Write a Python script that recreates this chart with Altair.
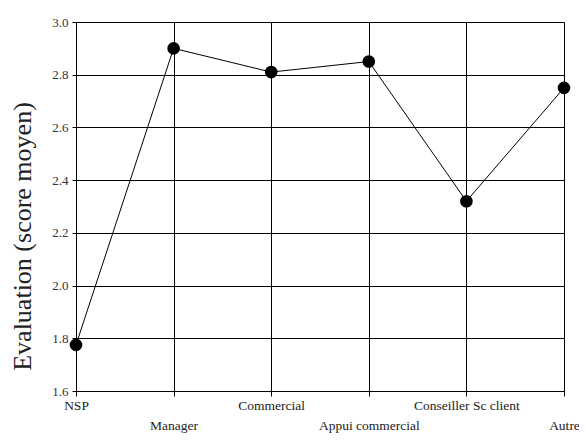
import altair as alt
import pandas as pd

categories = ["NSP", "Manager", "Commercial", "Appui commercial", "Conseiller Sc client", "Autre"]
scores = [1.775, 2.90, 2.81, 2.85, 2.32, 2.75]
y_ticks = [1.6, 1.8, 2.0, 2.2, 2.4, 2.6, 2.8, 3.0]
lower_row = ["Manager", "Appui commercial", "Autre"]

df = pd.DataFrame({"cat": categories, "score": scores})

FONT = "Liberation Serif, Times New Roman, serif"
label_expr = "indexof(" + str(lower_row) + ", datum.value) >= 0 ? ['', datum.label] : datum.label"

x = alt.X("cat:N", sort=categories, title=None,
          scale=alt.Scale(type="point", padding=0),
          axis=alt.Axis(labelAngle=0, grid=True, gridColor="black", gridOpacity=1, gridWidth=1,
                        domainColor="black", tickColor="black", tickSize=5,
                        labelFont=FONT, labelFontSize=13.5, labelColor="#222",
                        labelPadding=2, labelLineHeight=20, labelExpr=label_expr,
                        labelOverlap=False, labelBound=False, labelFlush=False))
y = alt.Y("score:Q", title="Evaluation (score moyen)",
          scale=alt.Scale(domain=[1.6, 3.0], nice=False, zero=False),
          axis=alt.Axis(values=y_ticks, format=".1f", grid=True, gridColor="black", gridOpacity=1,
                        gridWidth=1, domainColor="black", tickColor="black", tickSize=4,
                        labelFont=FONT, labelFontSize=13, labelColor="#333",
                        labelPadding=4, titleFont=FONT, titleFontSize=26,
                        titleFontWeight="normal", titleColor="#222",
                        titleX=-54, titleY=214, titleAngle=-90,
                        titleAlign="center", titleBaseline="middle"))

line = alt.Chart(df).mark_line(color="black", strokeWidth=1).encode(x=x, y=y)
pts = alt.Chart(df).mark_point(filled=True, color="black", size=160, opacity=1).encode(x=x, y=y)

chart = (line + pts).properties(
    width=488, height=369,
    autosize=alt.AutoSizeParams(type="none"),
    padding={"left": 68, "top": 14, "right": 15, "bottom": 42},
).configure_view(stroke=None).configure(background="white", font=FONT)

chart.save("out.html", embed_options={"renderer": "svg", "actions": False})
